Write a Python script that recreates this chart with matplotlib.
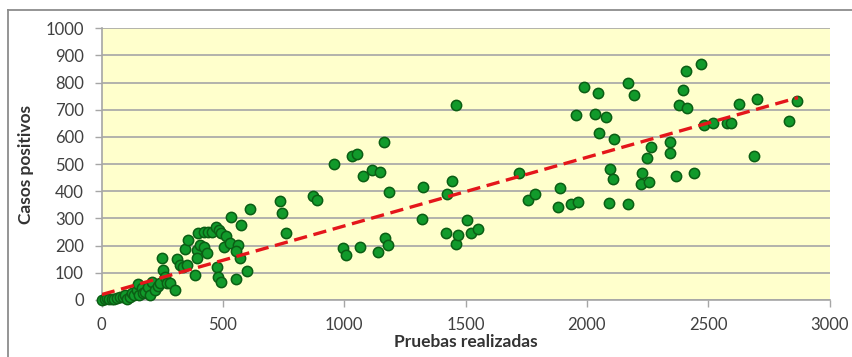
import matplotlib.pyplot as plt
from matplotlib.lines import Line2D

# Pruebas realizadas vs casos positivos
pruebas = [3, 12, 20, 30, 41, 50, 62, 75, 86, 96, 103, 116, 123, 135, 144, 150, 155,
           164, 171, 180, 192, 199, 206, 219, 230, 240, 247, 253, 260, 267, 281, 301,
           312, 322, 336, 343, 350, 356, 384, 391, 393, 397, 404, 421, 421, 432, 438,
           455, 470, 484, 493, 503, 514, 530, 532, 552, 562, 569, 576, 599, 610, 475,
           480, 493, 555, 733, 743, 758, 870, 888,
           959, 993, 1007, 1030, 1053, 1065, 1077, 1113, 1137, 1148, 1162, 1166, 1180,
           1183, 1320, 1324, 1421, 1425, 1442, 1460, 1460, 1470, 1505, 1523, 1550, 1720,
           1756, 1786, 1879, 1887, 1935, 1957, 1964, 1990,
           2035, 2046, 2049, 2079, 2090, 2095, 2109, 2112, 2169, 2169, 2194, 2222, 2227,
           2246, 2255, 2266, 2341, 2341, 2367, 2378, 2396, 2409, 2414, 2440, 2471, 2482,
           2519, 2579, 2594, 2627, 2689, 2701, 2833, 2867]
casos = [0, 2, 6, 3, 3, 5, 6, 12, 10, 18, 3, 12, 27, 20, 37, 59, 18,
         43, 25, 30, 49, 18, 67, 37, 50, 61, 153, 110, 86, 61, 61, 37,
         150, 129, 123, 187, 129, 221, 92, 184, 153, 245, 202, 194, 251, 174, 251,
         251, 270, 258, 245, 194, 235, 211, 307, 76, 202, 153, 276, 108, 334, 120,
         86, 67, 180, 364, 319, 245, 383, 368,
         499, 190, 166, 531, 536, 194, 458, 478, 177, 472, 580, 227, 202,
         399, 297, 416, 245, 389, 438, 717, 207, 238, 293, 245, 260, 466,
         368, 389, 341, 413, 353, 680, 361, 783,
         683, 763, 614, 672, 358, 481, 445, 594, 797, 355, 754, 427, 466,
         521, 433, 564, 582, 540, 458, 716, 773, 844, 708, 469, 869, 644,
         650, 653, 650, 721, 530, 739, 660, 732]

# linea de tendencia
tendencia_x = [0, 2870]
tendencia_y = [20, 745]

plt.rcParams['font.family'] = ['Lato', 'DejaVu Sans']

fig = plt.figure(figsize=(8.52, 3.57), dpi=100)
ax = fig.add_axes([0.1194, 0.1597, 0.8542, 0.761])
ax.set_facecolor('#FFFFCC')

ax.scatter(pruebas, casos, s=55, color='#119A2B', edgecolors='#0B5E14',
           linewidths=1.1, zorder=3, clip_on=False)
ax.plot(tendencia_x, tendencia_y, color='#E4161B', linestyle=(0, (4, 2)),
        linewidth=2.4, zorder=4)

ax.set_xlim(0, 3000)
ax.set_ylim(0, 1000)
ax.set_xticks(range(0, 3001, 500))
ax.set_yticks(range(0, 1001, 100))
ax.yaxis.grid(True, color='#A6A6A6', linewidth=1.2)
ax.set_axisbelow(True)
for s in ['top', 'right']:
    ax.spines[s].set_visible(False)
for s in ['left', 'bottom']:
    ax.spines[s].set_color('#A6A6A6')
    ax.spines[s].set_linewidth(1.2)
ax.tick_params(axis='both', colors='#A6A6A6', labelcolor='#404040',
               labelsize=12, length=5, width=1.0)
ax.tick_params(axis='x', pad=7)
ax.tick_params(axis='y', pad=8)

ax.set_xlabel('Pruebas realizadas', fontsize=12.5, fontweight='bold',
              color='#333333', labelpad=1)
ax.set_ylabel('Casos positivos', fontsize=12.5, fontweight='bold',
              color='#333333', labelpad=8)

# marco del grafico
fig.add_artist(Line2D([8/852, 1], [1 - 10/357, 1 - 10/357],
                      transform=fig.transFigure, color='#8C8C8C', linewidth=1.3))
fig.add_artist(Line2D([8/852, 8/852], [0, 1 - 10/357],
                      transform=fig.transFigure, color='#8C8C8C', linewidth=1.3))

plt.savefig('out.png', dpi=100)
